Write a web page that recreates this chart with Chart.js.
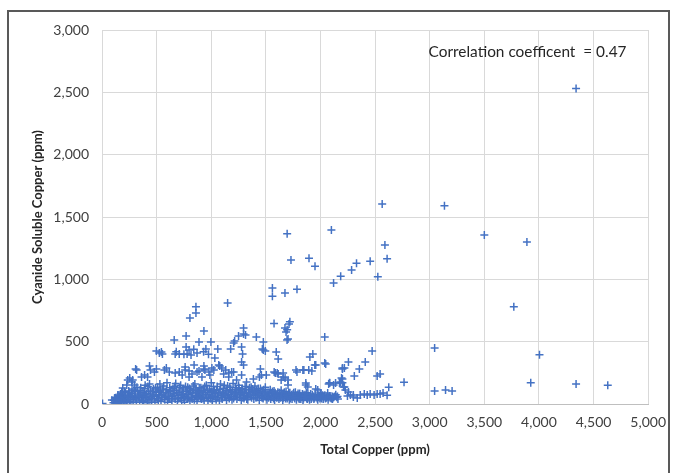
<!DOCTYPE html>
<html>
<head>
<meta charset="utf-8">
<script src="https://cdn.jsdelivr.net/npm/chart.js@4.4.1/dist/chart.umd.min.js"></script>
<style>
  html, body { margin:0; padding:0; background:#ffffff; }
  #wrap { position:relative; width:676px; height:473px; overflow:hidden; }
  #c { position:absolute; left:0; top:0; }
  #frame { position:absolute; left:7px; top:10px; width:659px; height:480px; border:2px solid #595959; pointer-events:none; }
</style>
</head>
<body>
<div id="wrap">
  <canvas id="c" width="676" height="473"></canvas>
  <div id="frame"></div>
</div>
<script>
const xTickLabels = ["0","500","1,000","1,500","2,000","2,500","3,000","3,500","4,000","4,500","5,000"];
const yTickLabels = ["0","500","1,000","1,500","2,000","2,500","3,000"];
const xAxisTitle = "Total Copper (ppm)";
const yAxisTitle = "Cyanide Soluble Copper (ppm)";
const annotationText = "Correlation coefficent  = 0.47";

const outlierSamples = [
[4340,2530],[2565,1605],[3135,1590],[1695,1365],[2100,1395],[3500,1355],[3890,1300],[1730,1155],[1895,1170],[1950,1105],
[2590,1275],[2610,1165],[2455,1145],[2330,1130],[2285,1075],[2185,1025],[2120,970],[2525,1020],[3770,780],[1560,930],
[1560,865],[1675,890],[1785,920],[1150,810],[860,780],[860,730],[805,690],[3045,450],[4005,395],[3925,170],
[4340,160],[4630,150],[3045,105],[3145,112],[3205,105],[2765,175],[2625,135],[2610,70]
];

const midSamples = [
[1575,645],[1675,610],[1695,595],[1720,660],[1712,642],[1694,513],[1685,577],[1703,521],[1296,610],[1314,553],
[933,585],[770,545],[661,513],[888,497],[997,497],[1205,490],[1214,505],[1250,545],[1296,561],[1413,537],
[1477,497],[1477,433],[2039,537],[1178,441],[1278,457],[1287,401],[1595,417],[1613,361],[1468,441],[1495,425],
[498,425],[544,417],[553,401],[525,409],[670,401],[707,401],[770,457],[797,433],[779,401],[815,393],
[870,409],[951,441],[1060,441],[1033,369],[1903,377],[1930,401],[1948,313],[2039,329],[1278,337],[1296,313],
[1069,313],[1096,289],[2473,425],[2256,337],[2410,337],[2201,289],[2356,281],[2310,225],[2519,225],[2546,241],
[2193,208],[2183,176],[2219,136],[2228,112],[680,420],[750,400],[840,440],[930,420],[975,400]
];

const lowSamples = [
[308,281],[435,305],[444,273],[317,273],[236,192],[254,208],[272,176],[281,192],[299,152],[227,152],
[190,128],[181,96],[145,72],[118,48],[91,32],[362,217],[390,233],[417,217],[480,257],[571,273],
[616,257],[670,249],[707,257],[797,265],[888,265],[933,281],[979,257],[1024,273],[498,281],[589,289],
[761,297],[843,313],[933,305],[1006,289],[1078,305],[734,233],[761,273],[797,217],[824,241],[870,257],
[915,217],[942,273],[988,233],[1114,241],[1160,217],[1205,257],[1232,192],[1278,233],[1323,176],[1386,200],
[1441,217],[1504,233],[1576,257],[1613,241],[1658,217],[1703,192],[1776,273],[1839,273],[1893,273],[1957,313],
[2048,321],[2201,281],[1866,152],[1957,120],[2075,160],[2120,152],[2211,136],[2256,96],[2301,72],[1133,273],
[1160,249],[1187,257],[1450,281],[1459,233],[1586,249],[1604,249],[1658,249],[1640,192],[1676,208],[1785,257],
[1848,273],[1921,265],[1703,152],[1866,168],[1884,136],[1975,112],[2002,88],[2066,88],[2111,48],[2084,168],
[2138,168],[2174,168],[2201,200],[2219,289]
];

const tailSamples = [
[2274,72],[2301,56],[2337,48],[2364,72],[2401,80],[2428,72],[2455,80],[2491,72],[2519,80],[2546,80],
[2573,88],[2247,64],[2110,60],[2156,60],[2083,170],[2201,170],[5,5]
];

const denseSamples = [
[105,10],[120,25],[130,5],[140,40],[150,15],[160,60],[165,30],[175,8],[185,45],[190,75],
[200,20],[210,55],[215,90],[225,10],[230,35],[240,70],[245,105],[255,20],[260,50],[270,85],
[275,120],[285,12],[290,40],[300,65],[305,100],[315,25],[320,135],[330,55],[335,80],[345,15],
[350,110],[360,40],[365,70],[375,95],[380,20],[390,125],[400,50],[405,85],[415,10],[420,140],
[430,35],[440,65],[445,105],[455,25],[460,80],[470,120],[480,45],[485,15],[495,95],[500,60],
[510,135],[515,30],[525,75],[535,110],[540,20],[550,50],[560,90],[565,145],[575,35],[580,65],
[590,115],[600,15],[605,80],[615,45],[620,130],[630,100],[640,25],[645,60],[655,85],[665,140],
[670,40],[680,110],[690,20],[695,70],[705,95],[715,50],[720,150],[730,30],[740,80],[745,120],
[755,15],[760,60],[770,100],[780,40],[785,135],[795,75],[805,25],[810,110],[820,55],[830,90],
[835,145],[845,35],[855,70],[860,120],[870,20],[880,50],[885,100],[895,80],[905,130],[910,40],
[920,65],[930,110],[935,25],[945,90],[955,150],[960,55],[970,30],[980,75],[985,120],[995,45],
[1005,100],[1010,20],[1020,140],[1025,65],[1035,85],[1045,35],[1050,115],[1060,55],[1070,95],[1075,25],
[1085,160],[1090,70],[1100,40],[1110,125],[1115,85],[1125,55],[1135,105],[1140,30],[1150,145],[1160,75],
[1165,45],[1175,115],[1185,90],[1190,35],[1200,165],[1210,60],[1220,130],[1225,80],[1235,40],[1245,105],
[1250,150],[1260,55],[1270,90],[1275,30],[1285,125],[1295,70],[1300,45],[1310,140],[1320,95],[1330,60],
[1335,35],[1345,115],[1355,80],[1365,135],[1370,50],[1380,100],[1390,40],[1400,145],[1405,70],[1415,110],
[1425,55],[1435,90],[1440,30],[1450,125],[1460,65],[1470,100],[1475,45],[1485,80],[1495,135],[1505,55],
[1510,35],[1520,95],[1530,70],[1540,115],[1545,40],[1555,85],[1565,60],[1575,105],[1580,30],[1590,75],
[1600,50],[1610,95],[1620,40],[1630,70],[1640,110],[1650,55],[1655,30],[1665,85],[1675,65],[1685,100],
[1695,45],[1705,75],[1715,35],[1720,90],[1730,60],[1740,40],[1750,80],[1760,55],[1770,95],[1780,35],
[1790,70],[1800,50],[1810,85],[1820,40],[1830,65],[1840,30],[1850,75],[1860,55],[1870,90],[1880,40],
[1890,60],[1900,35],[1910,80],[1920,50],[1930,65],[1940,40],[1950,75],[1960,55],[1975,35],[1985,70],
[1995,45],[2005,85],[2015,60],[2025,40],[2040,70],[2055,50],[2070,35],[2085,65],[2100,45],[2120,55],
[2140,75],[2160,40]
];

const denseSamplesExtra = [
[110,30],[125,50],[135,20],[145,65],[155,35],[170,80],[180,15],[195,50],[205,100],[220,30],
[235,60],[250,90],[265,35],[280,70],[295,110],[310,45],[325,100],[340,60],[355,130],[370,30],
[385,75],[395,150],[410,60],[425,100],[435,160],[450,45],[465,100],[475,70],[490,130],[505,40],
[520,100],[530,160],[545,70],[555,120],[570,55],[585,95],[595,170],[610,60],[625,110],[635,40],
[650,125],[660,70],[675,165],[685,90],[700,45],[710,130],[725,70],[735,105],[750,45],[765,140],
[775,80],[790,55],[800,125],[815,90],[825,40],[840,110],[850,160],[865,60],[875,95],[890,130],
[900,55],[915,100],[925,45],[940,140],[950,75],[965,110],[975,50],[990,95],[1000,170],[1015,60],
[1030,110],[1040,50],[1055,140],[1065,80],[1080,115],[1095,55],[1105,95],[1120,150],[1130,70],[1145,110],
[1155,55],[1170,135],[1180,60],[1195,100],[1205,45],[1215,90],[1230,115],[1240,65],[1255,130],[1265,75],
[1280,105],[1290,50],[1305,85],[1315,115],[1325,40],[1340,90],[1350,130],[1360,65],[1375,120],[1385,75],
[1395,105],[1410,50],[1420,90],[1430,125],[1445,70],[1455,100],[1465,50],[1480,115],[1490,65],[1500,95],
[1515,70],[1525,50],[1535,90],[1550,65],[1560,100],[1570,45],[1585,90],[1595,60],[1605,70],[1615,55],
[1625,90],[1635,50],[1645,80],[1660,50],[1670,95],[1680,45],[1690,70],[1700,55],[1710,90],[1725,45],
[1735,75],[1745,60],[1755,90],[1765,45],[1775,70],[1785,55],[1795,85],[1805,40],[1815,65],[1825,55],
[1835,80],[1845,45],[1855,60],[1865,70],[1875,45],[1885,75],[1895,50],[1905,60],[1915,40],[1925,75],
[1935,55],[1945,50],[1955,65],[1970,45],[1980,55],[1990,65],[2000,55],[2010,45],[2020,70],[2030,55],
[2045,45],[2060,60],[2075,55],[2090,50],[2110,40],[2130,60],[2150,55]
];

const allSamples = [].concat(denseSamples, denseSamplesExtra, lowSamples, midSamples, tailSamples, outlierSamples);

const annotationPlugin = {
  id: 'annotationText',
  afterDatasetsDraw(chart) {
    const {ctx, scales} = chart;
    ctx.save();
    ctx.font = '15.4px Lato';
    ctx.fillStyle = '#262626';
    ctx.textAlign = 'left';
    ctx.textBaseline = 'middle';
    ctx.fillText(annotationText, scales.x.getPixelForValue(2990), scales.y.getPixelForValue(2820));
    ctx.restore();
  }
};

new Chart(document.getElementById('c'), {
  type: 'scatter',
  data: {
    datasets: [{
      data: allSamples.map(p => ({x: p[0], y: p[1]})),
      pointStyle: 'cross',
      pointRadius: 4,
      pointBorderWidth: 1.5,
      borderColor: '#4472C4',
      backgroundColor: '#4472C4',
      showLine: false
    }]
  },
  options: {
    responsive: false,
    animation: false,
    events: [],
    layout: { padding: { top: 30, right: 22, bottom: 0, left: 0 } },
    plugins: { legend: { display: false }, tooltip: { enabled: false } },
    scales: {
      x: {
        type: 'linear', min: 0, max: 5000,
        afterFit(s) { s.height = 69; },
        grid: { color: '#d9d9d9', drawTicks: false, lineWidth: 1 },
        border: { color: '#bfbfbf', width: 1 },
        ticks: {
          stepSize: 500, padding: 10, color: '#404040',
          font: { family: 'Lato', size: 14 },
          callback: (v) => xTickLabels[Math.round(v / 500)]
        },
        title: {
          display: true, text: xAxisTitle, color: '#262626',
          font: { family: 'Lato', size: 13, weight: 'bold' },
          padding: { top: 4, bottom: 15 }
        }
      },
      y: {
        type: 'linear', min: 0, max: 3000,
        afterFit(s) { s.width = 102; },
        grid: { color: '#d9d9d9', drawTicks: false, lineWidth: 1 },
        border: { color: '#d9d9d9', width: 1 },
        ticks: {
          stepSize: 500, padding: 13, color: '#404040',
          font: { family: 'Lato', size: 14 },
          callback: (v) => yTickLabels[Math.round(v / 500)]
        },
        title: {
          display: true, text: yAxisTitle, color: '#262626',
          font: { family: 'Lato', size: 13, weight: 'bold' },
          padding: { top: 30, bottom: 4 }
        }
      }
    }
  },
  plugins: [annotationPlugin]
});
</script>
</body>
</html>
